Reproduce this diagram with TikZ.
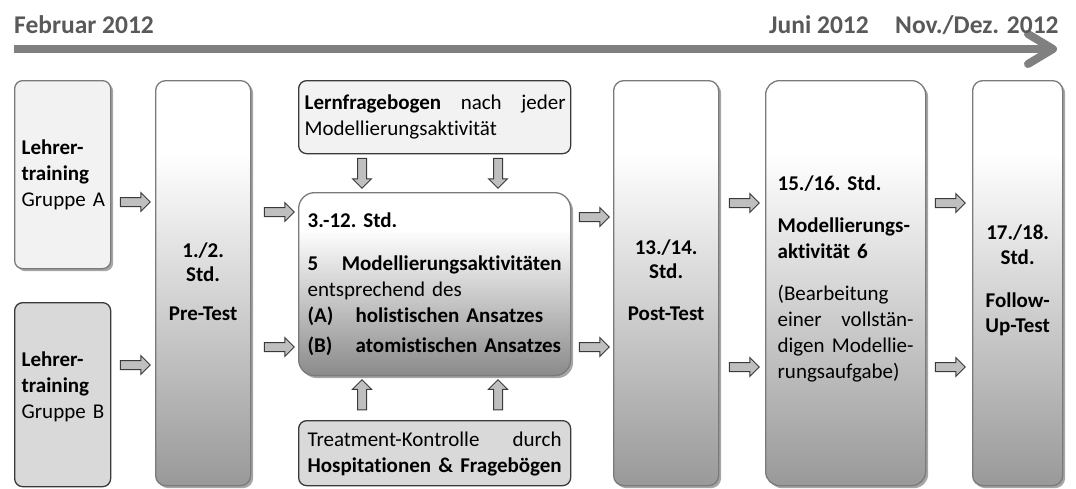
\documentclass[tikz,border=0pt]{standalone}
\usepackage{fontspec}
\setmainfont{Carlito}[Ligatures=NoCommon]
\usetikzlibrary{shapes.arrows,shadows}
\definecolor{hdr}{HTML}{595959}
\definecolor{tline}{HTML}{808080}
\definecolor{bordgray}{HTML}{7A7A7A}
\definecolor{borddark}{HTML}{3A3A3A}
\definecolor{lightfill}{HTML}{F2F2F2}
\definecolor{midfill}{HTML}{D9D9D9}
\definecolor{gradbot}{HTML}{999999}
\definecolor{gradbotc}{HTML}{8A8A8A}
\definecolor{arrfill}{HTML}{BFBFBF}
\pgfdeclareverticalshading{tallgrad}{100bp}{color(0bp)=(gradbot); color(25bp)=(gradbot); color(66bp)=(white); color(75bp)=(white); color(100bp)=(white)}
\pgfdeclareverticalshading{centgrad}{100bp}{color(0bp)=(gradbotc); color(25bp)=(gradbotc); color(65bp)=(white); color(75bp)=(white); color(100bp)=(white)}
\newcommand\mybody{\fontsize{21}{26}\selectfont\frenchspacing}
\newcommand\myhdr{\fontsize{25.5}{30}\selectfont\bfseries}
\newcommand\jline[2]{\makebox[#1][l]{#2}}
\tikzset{
  box/.style={draw=bordgray, line width=1.3pt, inner ysep=0pt, anchor=north west, font=\mybody},
  darkbox/.style={box, draw=borddark},
  sh/.style={drop shadow={shadow xshift=2.5pt, shadow yshift=-2.5pt, fill=black, opacity=0.35}},
  tallbox/.style={box, sh, shading=tallgrad, rounded corners=10pt, minimum height=405pt, align=center},
  barrow/.style={single arrow, draw=borddark, fill=arrfill, line width=1pt, minimum height=30pt, inner sep=4pt, single arrow head extend=5pt},
  hdrlabel/.style={anchor=base west, inner sep=0pt, text=hdr, font=\myhdr},
}
\begin{document}
\begin{tikzpicture}[x=1pt,y=-1pt]
\useasboundingbox (0,0) rectangle (1076,488);
% timeline
\coordinate (t0) at (14,49);
\coordinate (t1) at (1053,49);
\coordinate (tu) at (1028,34);
\coordinate (td) at (1028,64);
\draw[tline, line width=8pt] (t0) -- (t1);
\draw[tline, line width=8pt, line cap=round, line join=round] (tu) -- (t1) -- (td);
\node[hdrlabel] (feb) at (14,33) {Februar 2012};
\node[hdrlabel] (jun) at (769,33) {Juni 2012};
\node[hdrlabel] (nov) at (895,33) {Nov./Dez. 2012};
% left boxes
\node[box, sh, fill=lightfill, rounded corners=8pt, minimum width=96pt, minimum height=188pt, inner xsep=7pt, text width=82pt, align=left] (A) at (14,80)
  {\textbf{Lehrer-}\\\textbf{training}\\Gruppe~A};
\node[darkbox, fill=midfill, rounded corners=8pt, minimum width=96pt, minimum height=184pt, inner xsep=7pt, text width=82pt, align=left] (B) at (14,302)
  {\textbf{Lehrer-}\\\textbf{training}\\Gruppe~B\\[-6pt]\mbox{}};
% pre-test
\node[tallbox, minimum width=95pt, text width=85pt, inner xsep=5pt] (P) at (155,80)
  {\textbf{1./2.}\\[-2pt]\textbf{Std.}\\[13pt]\textbf{Pre-Test}\\[-22pt]\mbox{}};
% top and bottom boxes
\node[darkbox, fill=lightfill, rounded corners=8pt, minimum width=272pt, minimum height=73pt, inner xsep=6pt, text width=260pt, align=left] (L) at (298,80)
  {\jline{261pt}{\textbf{Lernfragebogen}\hfill nach\hfill jeder}\\Modellierungsaktivität};
\node[box, sh, shading=centgrad, rounded corners=16pt, minimum width=272pt, minimum height=183pt, inner xsep=9pt, text width=254pt, align=left] (C) at (298,192)
  {\textbf{3.-12. Std.}\\[17pt]
   \jline{254pt}{\textbf{5}\hfill\textbf{Modellierungsaktivitäten}}\\
   entsprechend des\\
   \textbf{\makebox[48pt][l]{(A)}holistischen Ansatzes}\\[4pt]
   \textbf{\makebox[48pt][l]{(B)}atomistischen Ansatzes}\\[-22pt]\mbox{}};
\node[darkbox, fill=midfill, rounded corners=8pt, minimum width=272pt, minimum height=65pt, inner xsep=9pt, text width=254pt, align=left] (T) at (298,420)
  {\jline{254pt}{Treatment-Kontrolle\hfill durch}\\\jline{254pt}{\textbf{Hospitationen\hfill\&\hfill Fragebögen}}\\[-24pt]\mbox{}};
% post-test
\node[tallbox, minimum width=105pt, text width=95pt, inner xsep=5pt] (Q) at (613,80)
  {\textbf{13./14.}\\[-2pt]\textbf{Std.}\\[16pt]\textbf{Post-Test}\\[-20pt]\mbox{}};
% 15/16
\node[tallbox, rounded corners=14pt, minimum width=160pt, text width=136pt, inner xsep=12pt, align=left] (M) at (765,80)
  {\textbf{15./16. Std.}\\[16pt]
   \textbf{Modellierungs-}\\\textbf{aktivität 6}\\[16pt]
   (Bearbeitung\\
   \jline{136pt}{einer\hfill vollstän-}\\
   \jline{136pt}{digen\hfill Modellie-}\\
   rungsaufgabe)\\[-14pt]\mbox{}};
% follow-up
\node[tallbox, minimum width=90pt, text width=84pt, inner xsep=3pt] (F) at (972,80)
  {\textbf{17./18.}\\[-1pt]\textbf{Std.}\\[17pt]\textbf{Follow-}\\[-1pt]\textbf{Up-Test}\\[-16pt]\mbox{}};
% block arrows
\node[barrow] (aAP) at (133,202) {};
\node[barrow] (aBP) at (133,365) {};
\node[barrow] (aPC1) at (277,212) {};
\node[barrow] (aPC2) at (277,347) {};
\node[barrow] (aCQ1) at (592,217) {};
\node[barrow] (aCQ2) at (592,347) {};
\node[barrow] (aQM1) at (742,203) {};
\node[barrow] (aQM2) at (742,367) {};
\node[barrow] (aMF1) at (948,203) {};
\node[barrow] (aMF2) at (948,367) {};
\node[barrow, shape border rotate=270] (aLC1) at (362,171) {};
\node[barrow, shape border rotate=270] (aLC2) at (498,171) {};
\node[barrow, shape border rotate=90] (aTC1) at (362,397) {};
\node[barrow, shape border rotate=90] (aTC2) at (498,397) {};
\end{tikzpicture}
\end{document}
